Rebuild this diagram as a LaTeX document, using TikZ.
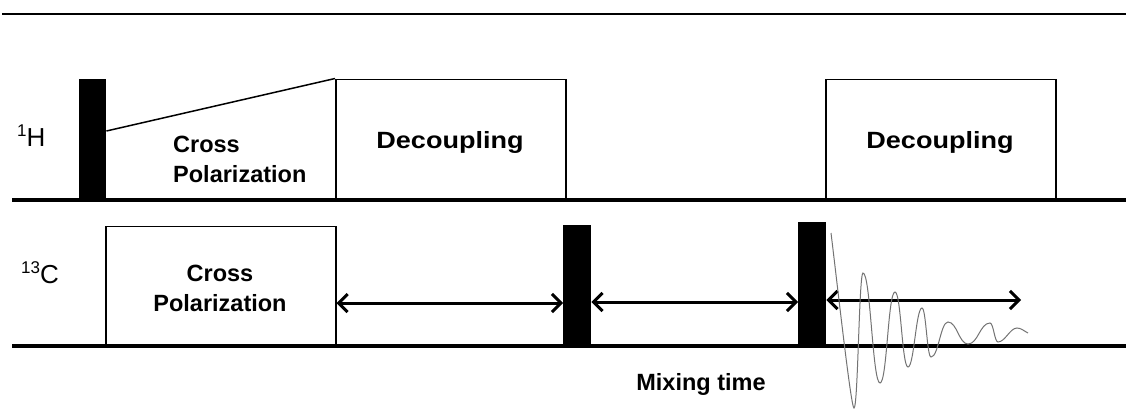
\documentclass[tikz,border=0pt]{standalone}
\usepackage{fontspec}
\setmainfont{Liberation Sans}
\usetikzlibrary{arrows.meta}
\tikzset{
  lbl/.style={inner sep=0pt, font=\fontsize{23.5}{28}\selectfont\bfseries},
  nuc/.style={inner sep=0pt, anchor=base west, font=\fontsize{26}{28}\selectfont},
  pulse/.style={fill=black, draw=none, inner sep=0pt, anchor=south west},
  blk/.style={draw=black, line width=1.5pt, inner sep=0pt, anchor=south west},
  rail/.style={line width=3.5pt},
  dbl/.style={line width=3pt, {Straight Barb[length=9pt,width=18pt]}-{Straight Barb[length=9pt,width=18pt]}},
  fid/.style={draw=black!55, line width=1pt}
}
\begin{document}
\begin{tikzpicture}[x=1pt,y=-1pt]
\useasboundingbox (0,0) rectangle (1126,408);
% top rule
\draw[line width=2.5pt] (2,14) -- (1126,14);
% 1H channel
\node[pulse, minimum width=27pt, minimum height=121pt] (p1) at (79,200) {};
\node[blk, minimum width=230pt, minimum height=120pt] (dec1) at (335,200) {};
\node[blk, minimum width=230pt, minimum height=120pt] (dec2) at (825,200) {};
\draw[line width=1.5pt] ([yshift=69pt]p1.south east) -- (dec1.north west);
\draw[rail] (12,200) -- (1126,200);
\node[nuc] (h1) at (17,146) {{\fontsize{17}{17}\selectfont\raisebox{10pt}{1}}H};
\node[lbl, anchor=base west] (cp1a) at (173,152) {Cross};
\node[lbl, anchor=base west] (cp1b) at (173,182) {Polarization};
\node[lbl, anchor=base] (dect1) at (450,148) {\scalebox{1.15}[1]{Decoupling}};
\node[lbl, anchor=base] (dect2) at (940,148) {\scalebox{1.15}[1]{Decoupling}};
% 13C channel
\node[blk, minimum width=230pt, minimum height=119pt] (cp13) at (105,346) {};
\node[pulse, minimum width=28pt, minimum height=121pt] (p2) at (563,346) {};
\node[pulse, minimum width=28pt, minimum height=124pt] (p3) at (798,346) {};
\draw[rail] (12,346) -- (1126,346);
\node[nuc] (c13) at (21,283) {{\fontsize{17}{17}\selectfont\raisebox{10pt}{13}}C};
\node[lbl, anchor=base] (cp2a) at (220,281) {Cross};
\node[lbl, anchor=base] (cp2b) at (220,311) {Polarization};
% delays
\coordinate (acqend) at (1021,300);
\draw[dbl] ([yshift=43pt]cp13.south east) -- ([yshift=43pt]p2.south west);
\draw[dbl] ([yshift=44pt]p2.south east) -- ([yshift=44pt]p3.south west);
\draw[dbl] ([yshift=46pt]p3.south east) -- (acqend);
\node[lbl, anchor=base] (mix) at (701,390) {Mixing time};
% FID
\draw[fid] (831,233) .. controls (838,290) and (851,408) .. (854,408)
  .. controls (858,408) and (859,273) .. (863,273)
  .. controls (870.5,273) and (872.5,383) .. (880,383)
  .. controls (887,383) and (888,292) .. (895,292)
  .. controls (901,292) and (902,367) .. (908,367)
  .. controls (914,367) and (916,308) .. (922,308)
  .. controls (926,308) and (927,357) .. (931,357)
  .. controls (938.5,357) and (940.5,322) .. (948,322)
  .. controls (957,322) and (959,344) .. (968,344)
  .. controls (978,344) and (980,323) .. (990,323)
  .. controls (993.5,323) and (994.5,342) .. (998,342)
  .. controls (1005,342) and (1010,328) .. (1017,328)
  .. controls (1021,328) and (1024,331) .. (1028,333);
\end{tikzpicture}
\end{document}
